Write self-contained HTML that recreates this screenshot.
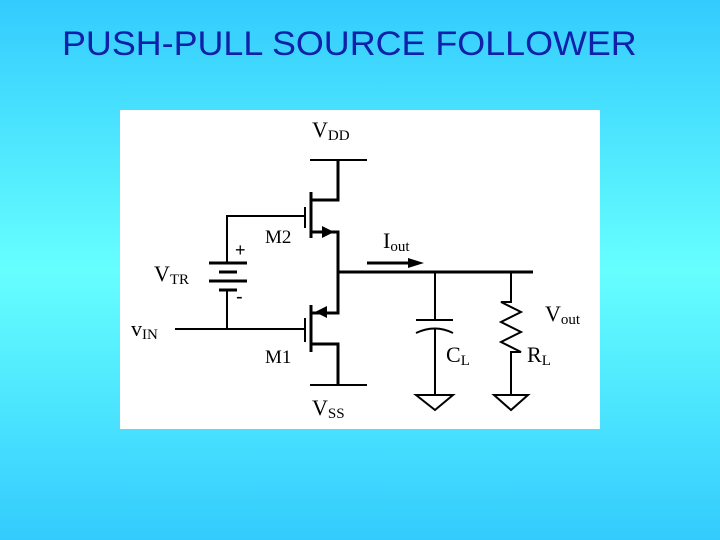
<!DOCTYPE html>
<html><head><style>
html,body{margin:0;padding:0}
body{width:720px;height:540px;overflow:hidden;background:linear-gradient(#33cbfd 0%,#66ffff 50%,#33cbfd 100%);position:relative;font-family:"Liberation Sans",sans-serif}
.t{position:absolute;left:62px;top:25px;font-size:34px;color:#1020a8;white-space:nowrap;transform:scaleX(1.055);transform-origin:0 0}
svg{position:absolute;left:0;top:0}
</style></head><body>
<div class="t">PUSH-PULL SOURCE FOLLOWER</div>
<svg width="720" height="540" font-family="Liberation Serif,serif" fill="none" stroke="#000" stroke-width="3">
<rect x="120" y="110" width="480" height="319" fill="#fff" stroke="none"/>
<line x1="310" y1="160" x2="367" y2="160" stroke-width="2"/>
<polyline points="338,160 338,200 311,200"/>
<line x1="311" y1="192" x2="311" y2="238"/>
<line x1="305" y1="207" x2="305" y2="228" stroke-width="2"/>
<polyline points="305,216 227,216 227,263" stroke-width="2"/>
<polyline points="311,232 338,232 338,313 311,313"/>
<polygon points="334,232 322,226 322,238" fill="#000" stroke="none"/>
<polygon points="315,312 327,306 327,318" fill="#000" stroke="none"/>
<line x1="311" y1="305" x2="311" y2="352"/>
<line x1="305" y1="318" x2="305" y2="342" stroke-width="2"/>
<line x1="175" y1="329" x2="305" y2="329" stroke-width="2"/>
<polyline points="311,344 338,344 338,385"/>
<line x1="310" y1="385" x2="367" y2="385" stroke-width="2"/>
<line x1="209" y1="263" x2="247" y2="263"/>
<line x1="219" y1="272" x2="237" y2="272"/>
<line x1="209" y1="281" x2="247" y2="281"/>
<line x1="219" y1="290" x2="237" y2="290"/>
<line x1="227" y1="290" x2="227" y2="329" stroke-width="2"/>
<line x1="338" y1="272" x2="533" y2="272"/>
<line x1="367" y1="263" x2="412" y2="263"/>
<polygon points="424,263 408,258 408,268" fill="#000" stroke="none"/>
<line x1="435" y1="272" x2="435" y2="320" stroke-width="2"/>
<line x1="416" y1="320" x2="453" y2="320" stroke-width="2"/>
<path d="M416,333 Q435,324 453,333" stroke-width="2"/>
<line x1="435" y1="328" x2="435" y2="395" stroke-width="2"/>
<polygon points="416,395 453,395 435,410" stroke-width="2"/>
<polyline points="511,272 511,302 501,302 521,312 501,322 521,332 501,342 521,352 511,352 511,395" stroke-width="2"/>
<polygon points="494,395 528,395 511,410" stroke-width="2"/>
<g fill="#000" stroke="none" font-size="22">
<text x="312" y="137">V<tspan font-size="15" dy="3">DD</tspan></text>
<text x="312" y="415">V<tspan font-size="15" dy="3">SS</tspan></text>
<text x="265" y="243" font-size="19">M2</text>
<text x="265" y="363" font-size="19">M1</text>
<text x="154" y="281">V<tspan font-size="15" dy="3">TR</tspan></text>
<text x="131" y="336">v<tspan font-size="15" dy="3">IN</tspan></text>
<text x="383" y="248">I<tspan font-size="15" dy="3">out</tspan></text>
<text x="545" y="321">V<tspan font-size="15" dy="3">out</tspan></text>
<text x="446" y="362">C<tspan font-size="15" dy="3">L</tspan></text>
<text x="527" y="362">R<tspan font-size="15" dy="3">L</tspan></text>
<text x="235" y="256" font-family="Liberation Sans,sans-serif" font-size="18">+</text>
<text x="236" y="303" font-family="Liberation Sans,sans-serif" font-size="20">-</text>
</g>
</svg>
</body></html>
